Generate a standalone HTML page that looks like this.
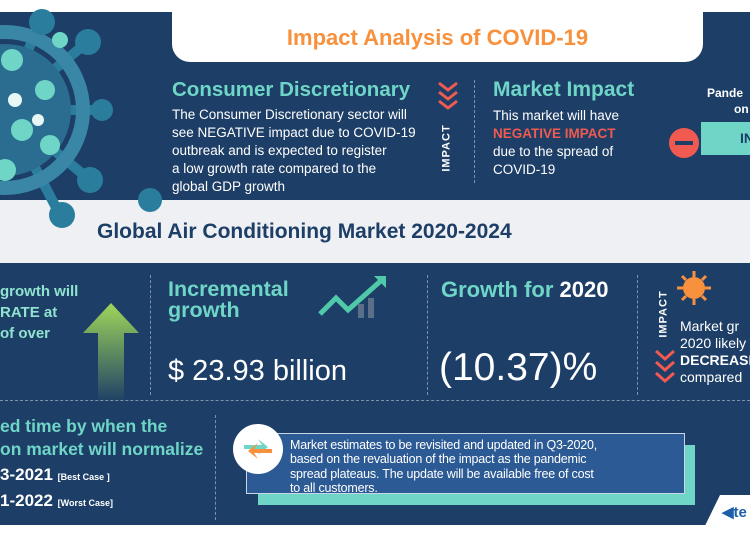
<!DOCTYPE html>
<html><head><style>
body{margin:0;width:750px;height:536px;overflow:hidden;background:#fff;font-family:"Liberation Sans",sans-serif;position:relative}
div,span{position:absolute}
.t{white-space:nowrap}
</style></head><body>
<div style="left:0;top:12px;width:750px;height:190px;background:#1d3e66"></div>
<div style="left:0;top:200px;width:750px;height:63px;background:#eef0f3"></div>
<div style="left:0;top:263px;width:750px;height:262px;background:#1d3e66"></div>
<!-- virus -->
<svg style="position:absolute;left:0;top:0" width="200" height="240">
<g stroke="#2b7d9e" stroke-width="10" stroke-linecap="round"><path d="M5 110L40 20M5 110L90 40M5 110L100 110M5 110L90 180M5 110L60 215"/></g>
<circle cx="5" cy="110" r="78" fill="none" stroke="#3a86a6" stroke-width="14"/>
<g fill="#2b7d9e"><circle cx="42" cy="22" r="13"/><circle cx="88" cy="42" r="13"/><circle cx="102" cy="110" r="11"/><circle cx="90" cy="180" r="13"/><circle cx="62" cy="215" r="13"/><circle cx="150" cy="200" r="12"/></g>
<circle cx="5" cy="110" r="66" fill="#2b6d90"/>
<g fill="#6fd6c7"><circle cx="12" cy="60" r="11"/><circle cx="45" cy="90" r="10"/><circle cx="22" cy="130" r="11"/><circle cx="50" cy="145" r="10"/><circle cx="5" cy="170" r="11"/><circle cx="60" cy="40" r="8"/></g>
<g fill="#e6f7f4"><circle cx="15" cy="100" r="7"/><circle cx="38" cy="120" r="6"/></g>
</svg>
<div style="left:172px;top:0;width:531px;height:62px;background:#fff;border-radius:0 0 18px 18px"></div>
<div class="t" style="left:172px;width:531px;top:25px;text-align:center;color:#f7913d;font-size:22px;font-weight:bold">Impact Analysis of COVID-19</div>
<div class="t" style="left:172px;top:78px;color:#6fd6c7;font-size:20.5px;font-weight:bold">Consumer Discretionary</div>
<div style="left:172px;top:106px;color:#fff;font-size:13.5px;line-height:18px;width:270px;white-space:nowrap">The Consumer Discretionary sector will<br>see NEGATIVE impact due to COVID-19<br>outbreak and is expected to register<br>a low growth rate compared to the<br>global GDP growth</div>
<svg style="position:absolute;left:436px;top:80px" width="24" height="40"><g fill="none" stroke="#f05a50" stroke-width="3"><path d="M3 3l9 7 9-7M3 12l9 7 9-7M3 21l9 7 9-7"/></g></svg>
<div class="t" style="left:423px;top:142px;transform:rotate(-90deg);color:#fff;font-size:11px;font-weight:bold;letter-spacing:1px">IMPACT</div>
<div style="left:474px;top:80px;height:103px;border-left:1px dashed #7d93ad"></div>
<div class="t" style="left:493px;top:78px;color:#6fd6c7;font-size:21px;font-weight:bold">Market Impact</div>
<div style="left:493px;top:107px;color:#fff;font-size:13.5px;line-height:18px;white-space:nowrap">This market will have<br><b style="color:#f05a50">NEGATIVE IMPACT</b><br>due to the spread of<br>COVID-19</div>
<div style="left:669px;top:128px;width:30px;height:30px;border-radius:50%;background:#f05a50"></div>
<div style="left:675px;top:141px;width:18px;height:4px;background:#1d3e66"></div>
<div class="t" style="left:707px;top:86px;color:#fff;font-size:12px;font-weight:bold">Pande</div>
<div class="t" style="left:734px;top:102px;color:#fff;font-size:12px;font-weight:bold">on</div>
<div style="left:701px;top:122px;width:49px;height:33px;background:#6fd6c7"></div>
<div class="t" style="left:740px;top:130px;color:#1d3e66;font-size:14px;font-weight:bold">IN</div>
<div class="t" style="left:97px;top:220px;color:#1d3e66;font-size:21px;font-weight:bold">Global Air Conditioning Market 2020-2024</div>
<!-- lower -->
<div style="left:0;top:281px;color:#8fe3cf;font-size:15px;font-weight:bold;line-height:21px">growth will<br>RATE at<br>of over</div>
<svg style="position:absolute;left:82px;top:303px" width="58" height="100"><defs><linearGradient id="g" x1="0" y1="0" x2="0" y2="1"><stop offset="0" stop-color="#9fd65a"/><stop offset="1" stop-color="#1d3e66"/></linearGradient></defs><path d="M29 0L57 30H42V100H16V30H1Z" fill="url(#g)"/></svg>
<div style="left:150px;top:275px;height:120px;border-left:1px dashed #7d93ad"></div>
<div style="left:427px;top:275px;height:120px;border-left:1px dashed #7d93ad"></div>
<div style="left:637px;top:275px;height:120px;border-left:1px dashed #7d93ad"></div>
<div style="left:168px;top:279px;color:#6fd6c7;font-size:21.5px;font-weight:bold;line-height:21px">Incremental<br>growth</div>
<svg style="position:absolute;left:318px;top:274px" width="72" height="46"><path d="M2 40L18 24L30 36L66 4" fill="none" stroke="#4fc9a8" stroke-width="5"/><path d="M56 2H68V14Z" fill="#4fc9a8"/><rect x="40" y="30" width="6" height="14" fill="#5a6f88"/><rect x="50" y="24" width="6" height="20" fill="#5a6f88"/></svg>
<div class="t" style="left:168px;top:355px;color:#fff;font-size:29px">$ 23.93 billion</div>
<div class="t" style="left:441px;top:277px;color:#6fd6c7;font-size:22px;font-weight:bold">Growth for <span style="position:static;color:#fff">2020</span></div>
<div class="t" style="left:439px;top:346px;color:#fff;font-size:39px">(10.37)%</div>
<svg style="position:absolute;left:676px;top:270px" width="36" height="36"><circle cx="18" cy="18" r="11" fill="#f7913d"/><g stroke="#f7913d" stroke-width="3"><path d="M18 1v6M18 29v6M1 18h6M29 18h6M6 6l4 4M26 26l4 4M6 30l4-4M26 10l4-4"/></g></svg>
<div class="t" style="left:640px;top:308px;transform:rotate(-90deg);color:#fff;font-size:11px;font-weight:bold;letter-spacing:1px">IMPACT</div>
<div style="left:680px;top:318px;color:#fff;font-size:14px;line-height:17px;white-space:nowrap">Market gr<br>2020 likely<br><b>DECREASE</b><br>compared</div>
<svg style="position:absolute;left:653px;top:348px" width="24" height="42"><g fill="none" stroke="#f05a50" stroke-width="3"><path d="M3 3l9 8 9-8M3 14l9 8 9-8M3 25l9 8 9-8"/></g></svg>
<div style="left:0;top:400px;width:750px;border-top:1px dashed #7d93ad"></div>
<div style="left:0;top:415px;color:#6fd6c7;font-size:17.5px;font-weight:bold;line-height:23px;white-space:nowrap">ed time by when the<br>on market will normalize</div>
<div class="t" style="left:0;top:465px;color:#fff;font-size:17px;font-weight:bold">3-2021 <span style="position:static;font-size:9px">[Best Case ]</span></div>
<div class="t" style="left:0;top:491px;color:#fff;font-size:17px;font-weight:bold">1-2022 <span style="position:static;font-size:9px">[Worst Case]</span></div>
<div style="left:215px;top:415px;height:105px;border-left:1px dashed #7d93ad"></div>
<div style="left:258px;top:445px;width:437px;height:60px;background:#6fd6c7"></div>
<div style="left:246px;top:433px;width:437px;height:59px;background:#2c5a94;border:1px solid #c9d6e6"></div>
<div style="left:233px;top:424px;width:50px;height:50px;border-radius:50%;background:#fff"></div>
<svg style="position:absolute;left:240px;top:433px" width="36" height="32"><path d="M4 12h18l-4-6 10 8-10 8 4-6H4Z" fill="#6fd6c7"/><path d="M32 20H14l4 6-10-8 10-8-4 6h18Z" fill="#f7913d"/></svg>
<div style="left:290px;top:438px;color:#fff;font-size:12.5px;line-height:14.3px;white-space:nowrap;letter-spacing:-0.2px">Market estimates to be revisited and updated in Q3-2020,<br>based on the revaluation of the impact as the pandemic<br>spread plateaus. The update will be available free of cost<br>to all customers.</div>
<svg style="position:absolute;left:700px;top:495px" width="50" height="41"><path d="M20 0H50V41H0Z" fill="#fff"/></svg>
<div class="t" style="left:722px;top:503px;color:#1d5fa8;font-size:15px;font-weight:bold">◀te</div>
</body></html>
